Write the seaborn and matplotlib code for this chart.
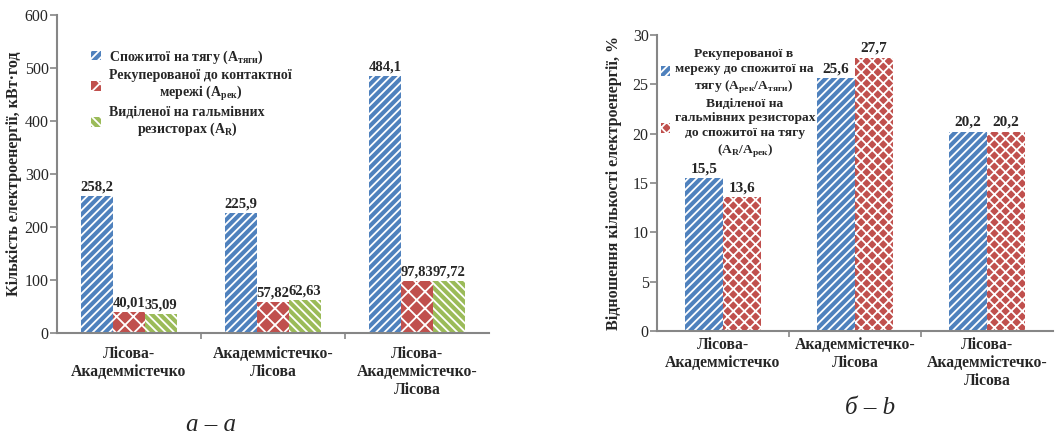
import matplotlib
matplotlib.use("Agg")
import matplotlib.pyplot as plt
import seaborn as sns
import pandas as pd

sns.set_theme(style="white")
plt.rcParams["font.family"] = ["Liberation Serif", "DejaVu Serif"]
plt.rcParams["mathtext.fontset"] = "custom"
plt.rcParams["mathtext.rm"] = "Liberation Serif:bold"
plt.rcParams["mathtext.bf"] = "Liberation Serif:bold"
plt.rcParams["hatch.linewidth"] = 1.3

# Route categories
routes = ["Лісова-\nАкадеммістечко", "Академмістечко-\nЛісова", "Лісова-\nАкадеммістечко-\nЛісова"]

# Panel a: energy amounts, kWh
consumed = [258.2, 225.9, 484.1]
recuperated = [40.01, 57.82, 97.83]
resistors = [35.09, 62.63, 97.72]
labels_a = [
    "Спожитої на тягу (A$_{\\mathrm{тяги}}$)",
    "Рекуперованої до контактної\nмережі (A$_{\\mathrm{рек}}$)",
    "Виділеної на гальмівних\nрезисторах (A$_{\\mathrm{R}}$)",
]

# Panel b: energy ratios, %
ratio_rec = [15.5, 25.6, 20.2]
ratio_res = [13.6, 27.7, 20.2]
labels_b = [
    "Рекуперованої в\nмережу до спожитої на\nтягу (A$_{\\mathrm{рек}}$/A$_{\\mathrm{тяги}}$)",
    "Виділеної на\nгальмівних резисторах\nдо спожитої на тягу\n(A$_{\\mathrm{R}}$/A$_{\\mathrm{рек}}$)",
]

BLUE, RED, GREEN = "#4F81BD", "#C0504D", "#9BBB59"
GRAY = "#868686"


def fmt(v, nd):
    return f"{v:.{nd}f}".replace(".", ",")


def style_axes(ax, ymax, ystep, xpad):
    ax.set_xlim(-0.5, 2.5)
    ax.set_ylim(0, ymax)
    ax.set_yticks(range(0, ymax + 1, ystep))
    for s in ["top", "right"]:
        ax.spines[s].set_visible(False)
    for s in ["left", "bottom"]:
        ax.spines[s].set_color(GRAY)
        ax.spines[s].set_linewidth(1.5)
    ax.tick_params(axis="y", which="major", left=True, length=5, width=1.2,
                   color=GRAY, labelsize=11.5, pad=1)
    ax.set_xticks([0, 1, 2])
    ax.set_xticklabels(routes, fontweight="bold", fontsize=11.3, linespacing=1.2)
    ax.tick_params(axis="x", which="major", length=0, pad=xpad)
    ax.set_xticks([0.5, 1.5], minor=True)
    ax.tick_params(axis="x", which="minor", bottom=True, length=4, width=1.2,
                   color=GRAY, direction="out")
    ax.set_xlabel("")
    ax.grid(False)


def style_legend(leg, hatches, linespacing):
    for t in leg.get_texts():
        t.set_multialignment("center")
        t.set_linespacing(linespacing)
    for h, hh in zip(leg.legend_handles, hatches):
        h.set_hatch(hh)
        h.set_edgecolor("white")
        h.set_linewidth(0)


fig = plt.figure(figsize=(10.59, 4.36), dpi=100)

# ---- panel a ----
ax1 = fig.add_axes([0.0538, 0.2362, 0.408, 0.7294])
df_a = pd.DataFrame({
    "route": routes * 3,
    "series": [labels_a[0]] * 3 + [labels_a[1]] * 3 + [labels_a[2]] * 3,
    "value": consumed + recuperated + resistors,
})
sns.barplot(data=df_a, x="route", y="value", hue="series", order=routes,
            hue_order=labels_a, palette=[BLUE, RED, GREEN], width=0.667,
            saturation=1, errorbar=None, ax=ax1, edgecolor="white", linewidth=0)
hatches_a = ["////", "xx", "\\\\\\\\"]
decs_a = [1, 2, 2]
vals_a = [consumed, recuperated, resistors]
for cont, h, nd, vals in zip(ax1.containers, hatches_a, decs_a, vals_a):
    for p in cont:
        p.set_hatch(h)
        p.set_edgecolor("white")
        p.set_linewidth(0)
    ax1.bar_label(cont, labels=[fmt(v, nd) for v in vals], padding=2,
                  fontweight="bold", fontsize=10.5)
style_axes(ax1, 600, 100, 9)
ax1.set_ylabel("Кількість електроенергії, кВт·год", fontweight="bold", fontsize=11.5,
               labelpad=2)
leg1 = ax1.legend(loc="upper left", bbox_to_anchor=(0.05, 0.935), frameon=False,
                  handlelength=0.7, handleheight=0.7, handletextpad=0.6,
                  labelspacing=0.22, prop={"weight": "bold", "size": 10})
style_legend(leg1, hatches_a, 1.15)

# ---- panel b ----
ax2 = fig.add_axes([0.6204, 0.2408, 0.374, 0.679])
df_b = pd.DataFrame({
    "route": routes * 2,
    "series": [labels_b[0]] * 3 + [labels_b[1]] * 3,
    "value": ratio_rec + ratio_res,
})
sns.barplot(data=df_b, x="route", y="value", hue="series", order=routes,
            hue_order=labels_b, palette=[BLUE, RED], width=0.58,
            saturation=1, errorbar=None, ax=ax2, edgecolor="white", linewidth=0)
hatches_b = ["////", "xxx"]
vals_b = [ratio_rec, ratio_res]
for cont, h, vals in zip(ax2.containers, hatches_b, vals_b):
    for p in cont:
        p.set_hatch(h)
        p.set_edgecolor("white")
        p.set_linewidth(0)
    ax2.bar_label(cont, labels=[fmt(v, 1) for v in vals], padding=2,
                  fontweight="bold", fontsize=11)
style_axes(ax2, 30, 5, 4)
ax2.set_ylabel("Відношення кількості електроенергії, %", fontweight="bold",
               fontsize=11.5, labelpad=8)
leg2 = ax2.legend(loc="upper left", bbox_to_anchor=(0.0, 0.97), frameon=False,
                  borderaxespad=0.2, borderpad=0.1,
                  handlelength=0.7, handleheight=0.7, handletextpad=0.3,
                  labelspacing=0.2, prop={"weight": "bold", "size": 9.7})
style_legend(leg2, hatches_b, 1.3)

# panel captions
fig.text(211 / 1059, 1 - 425 / 436, "а – a", fontsize=18, style="italic",
         ha="center", va="center")
fig.text(870 / 1059, 1 - 408 / 436, "б – b", fontsize=18, style="italic",
         ha="center", va="center")

fig.savefig("out.png", dpi=100)
